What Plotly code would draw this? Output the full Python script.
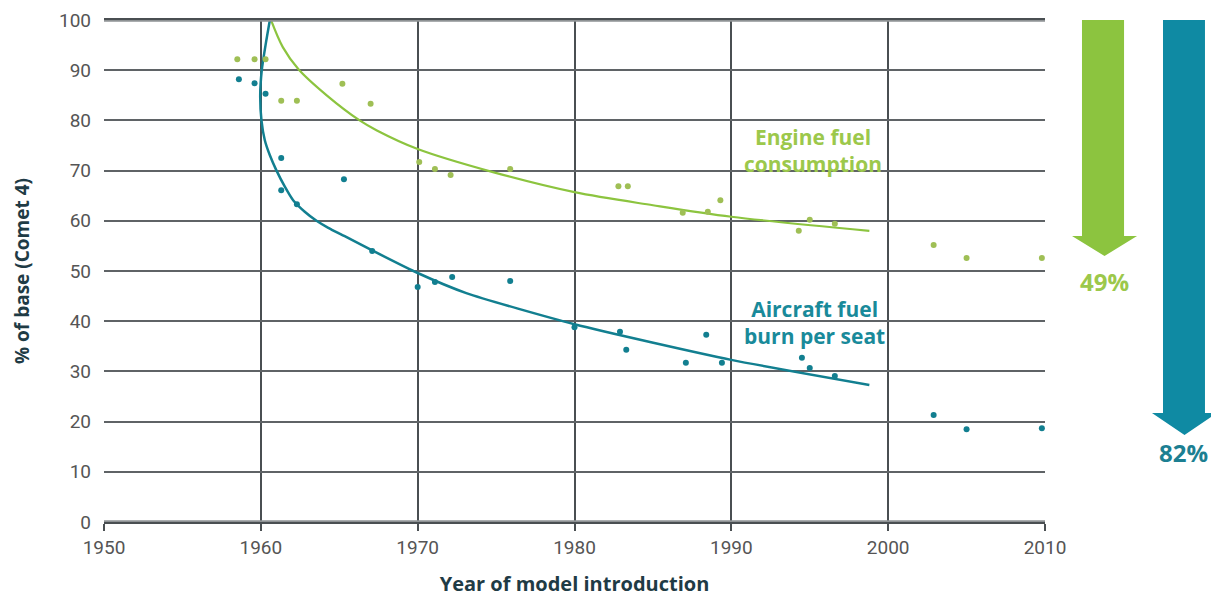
import plotly.graph_objects as go

# ---- data ----
engine_years = [1958.5, 1959.6, 1960.3, 1961.3, 1962.3, 1965.2, 1967.0, 1970.1, 1971.1, 1972.1,
                1975.9, 1982.8, 1983.4, 1986.9, 1988.5, 1989.3, 1994.3, 1995.0, 1996.6, 2002.9,
                2005.0, 2009.8]
engine_vals = [92.2, 92.2, 92.2, 83.9, 83.9, 87.3, 83.3, 71.7, 70.3, 69.1,
               70.3, 66.9, 66.9, 61.6, 61.8, 64.1, 58.0, 60.2, 59.4, 55.2,
               52.6, 52.6]

seat_years = [1958.6, 1959.6, 1960.3, 1961.3, 1961.3, 1962.3, 1965.3, 1967.1, 1970.0, 1971.1,
              1972.2, 1975.9, 1980.0, 1982.9, 1983.3, 1987.1, 1988.4, 1989.4, 1994.5, 1995.0,
              1996.6, 2002.9, 2005.0, 2009.8]
seat_vals = [88.2, 87.4, 85.3, 72.5, 66.1, 63.3, 68.3, 54.0, 46.8, 47.8,
             48.8, 48.0, 38.8, 37.9, 34.3, 31.7, 37.3, 31.7, 32.7, 30.7,
             29.1, 21.3, 18.5, 18.7]

engine_fit_years = [1960.6, 1961.4, 1962.4, 1964.2, 1966.3, 1967.4, 1970.0, 1974.8, 1980.0,
                    1985.0, 1990.0, 1998.8]
engine_fit_vals = [100.4, 94.6, 90.2, 85.0, 80.0, 78.0, 74.3, 69.7, 65.7,
                   63.1, 60.8, 58.0]

seat_fit_years = [1960.6, 1960.3, 1960.06, 1959.96, 1960.04, 1960.25, 1960.57, 1961.0, 1961.53,
                  1962.06, 1962.8, 1963.55, 1964.3, 1965.5, 1967.1, 1970.0, 1973.1, 1980.0,
                  1990.0, 1998.8]
seat_fit_vals = [100.4, 95.0, 90.0, 85.0, 80.0, 76.1, 73.1, 70.0, 66.8,
                 64.1, 61.8, 60.0, 58.6, 56.7, 54.1, 49.6, 45.6, 39.4,
                 32.3, 27.3]

x_ticks = [1950, 1960, 1970, 1980, 1990, 2000, 2010]
y_ticks = [0, 10, 20, 30, 40, 50, 60, 70, 80, 90, 100]

engine_reduction_label = "49%"
seat_reduction_label = "82%"

GREEN = "#8cc43f"
GREEN_TXT = "#9cc84b"
TEAL = "#127f90"
TEAL_ARROW = "#0f8aa3"

fig = go.Figure()

fig.add_trace(go.Scatter(x=engine_fit_years, y=engine_fit_vals, mode="lines",
                         line=dict(color=GREEN, width=2.2, shape="spline", smoothing=0.9),
                         hoverinfo="skip", showlegend=False))
fig.add_trace(go.Scatter(x=seat_fit_years, y=seat_fit_vals, mode="lines",
                         line=dict(color=TEAL, width=2.5, shape="spline", smoothing=0.6),
                         hoverinfo="skip", showlegend=False))
fig.add_trace(go.Scatter(x=engine_years, y=engine_vals, mode="markers",
                         marker=dict(color="#9fbf55", size=6), showlegend=False))
fig.add_trace(go.Scatter(x=seat_years, y=seat_vals, mode="markers",
                         marker=dict(color=TEAL, size=6), showlegend=False))

# labels
fig.add_annotation(x=1995.2, y=74.0, text="<b>Engine fuel<br>consumption</b>", showarrow=False,
                   font=dict(color=GREEN_TXT, size=21, family="Open Sans"), align="center")
fig.add_annotation(x=1995.3, y=39.8, text="<b>Aircraft fuel<br>burn per seat</b>", showarrow=False,
                   font=dict(color="#198a9a", size=21, family="Open Sans"), align="center")

# reduction arrows (paper coordinates, outside plot area)
def arrow_path(x0, x1, hx0, hx1, yb, ytip):
    xc = (hx0 + hx1) / 2
    return (f"M {x0} 1.0 L {x1} 1.0 L {x1} {yb} L {hx1} {yb} L {xc} {ytip} "
            f"L {hx0} {yb} L {x0} {yb} Z")

fig.add_shape(type="path", xref="paper", yref="paper",
              path=arrow_path(1.0393, 1.0840, 1.0287, 1.0978, 0.5697, 0.5299),
              fillcolor=GREEN, line=dict(width=0))
fig.add_shape(type="path", xref="paper", yref="paper",
              path=arrow_path(1.1254, 1.1700, 1.1137, 1.1828, 0.2171, 0.1733),
              fillcolor=TEAL_ARROW, line=dict(width=0))
fig.add_annotation(xref="paper", yref="paper", x=1.0627, y=0.4781, xanchor="center", yanchor="middle",
                   text=f"<b>{engine_reduction_label}</b>",
                   showarrow=False, font=dict(color=GREEN_TXT, size=24, family="Open Sans"))
fig.add_annotation(xref="paper", yref="paper", x=1.1467, y=0.1394, xanchor="center", yanchor="middle",
                   text=f"<b>{seat_reduction_label}</b>",
                   showarrow=False, font=dict(color="#1c7f92", size=24, family="Open Sans"))

# the page body has an 8px margin, so margins are offset to place the plot area as in the reference
fig.update_layout(
    width=1219, height=599,
    margin=dict(l=96, r=182, t=12, b=85, autoexpand=False),
    plot_bgcolor="white", paper_bgcolor="white",
    font=dict(family="Liberation Sans Narrow, Roboto, sans-serif", color="#555555"),
)
fig.update_xaxes(range=[1950, 2010], tickvals=x_ticks, ticktext=[str(v) for v in x_ticks],
                 automargin=False,
                 showgrid=True, gridcolor="#4a4f52", gridwidth=1.6,
                 zeroline=False, showline=True, linecolor="#4a4f52", linewidth=1.6, mirror=True,
                 ticks="outside", ticklen=7, tickcolor="#4a4f52", tickwidth=1.6,
                 tickfont=dict(size=19, color="#555555"),
                 title=dict(text="<b>Year of model introduction</b>", standoff=19,
                            font=dict(size=20, color="#1f3b45", family="Open Sans")))
fig.update_yaxes(range=[0, 100], tickvals=y_ticks, ticktext=[str(v) for v in y_ticks],
                 automargin=False,
                 showgrid=True, gridcolor="#5f6366", gridwidth=2,
                 zeroline=False, showline=False,
                 ticks="", ticklabelstandoff=12,
                 tickfont=dict(size=19, color="#555555"),
                 title=dict(text="<b>% of base (Comet 4)</b>", standoff=24,
                            font=dict(size=19, color="#1f3b45", family="Open Sans")))

# top/bottom thicker light-grey borders
fig.add_shape(type="line", xref="paper", yref="y", x0=0, x1=1, y0=100, y1=100,
              line=dict(color="#8e9294", width=3.5))
fig.add_shape(type="line", xref="paper", yref="y", x0=0, x1=1, y0=0, y1=0,
              line=dict(color="#8e9294", width=3.5))

fig.write_html("out.html")
